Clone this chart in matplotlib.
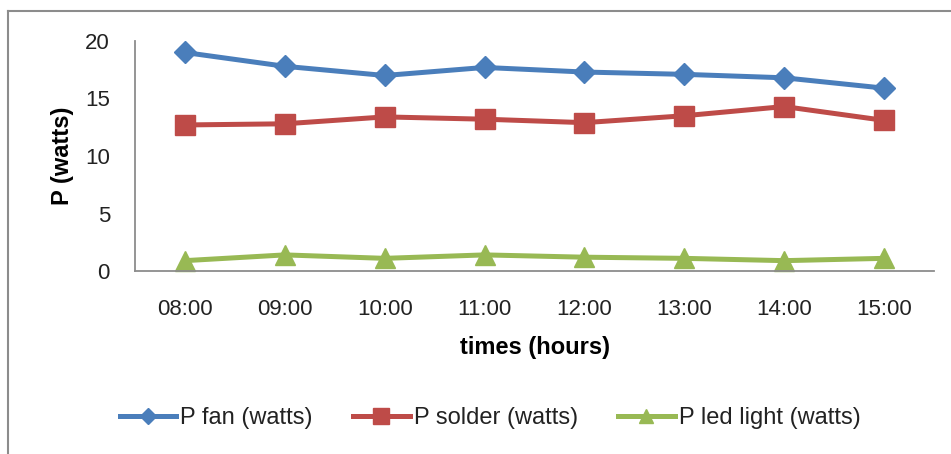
import matplotlib
matplotlib.use("Agg")
import matplotlib.pyplot as plt
from matplotlib.lines import Line2D

times = ["08:00", "09:00", "10:00", "11:00", "12:00", "13:00", "14:00", "15:00"]
p_fan = [19.0, 17.8, 17.0, 17.7, 17.3, 17.1, 16.8, 15.9]
p_solder = [12.7, 12.8, 13.4, 13.2, 12.9, 13.5, 14.3, 13.1]
p_led = [0.9, 1.4, 1.1, 1.4, 1.2, 1.1, 0.9, 1.1]
yticks = [0, 5, 10, 15, 20]

plt.rcParams['font.family'] = ['Liberation Sans', 'DejaVu Sans']

W, H = 951, 454
fig = plt.figure(figsize=(W/100, H/100), dpi=100)
ax = fig.add_axes([135/W, 1-271/H, (934-135)/W, (271-41)/H])

x = list(range(len(times)))
ax.plot(x, p_fan, color="#4A7EBB", lw=3.6, marker="D", ms=11, label="P fan (watts)")
ax.plot(x, p_solder, color="#BE4B48", lw=3.6, marker="s", ms=15, label="P solder (watts)")
ax.plot(x, p_led, color="#98B954", lw=3.6, marker="^", ms=14, label="P led light (watts)", clip_on=False)

ax.set_xlim(-0.5, 7.5)
ax.set_ylim(0, 20)
ax.set_xticks(x)
ax.set_xticklabels(times)
ax.set_yticks(yticks)
ax.tick_params(length=0, labelsize=16, colors="#222222")
ax.tick_params(axis='y', pad=18)
ax.tick_params(axis='x', pad=20)
for s in ["top", "right"]:
    ax.spines[s].set_visible(False)
for s in ["left", "bottom"]:
    ax.spines[s].set_color("#8c8c8c")
    ax.spines[s].set_linewidth(1.3)

ax.set_ylabel("P (watts)", fontsize=17, fontweight="bold", labelpad=8)
ax.set_xlabel("times (hours)", fontsize=17, fontweight="bold", labelpad=12)

leg = fig.legend(loc="center", bbox_to_anchor=(490/W, 1-418/H), ncol=3, frameon=False,
                 fontsize=17, handlelength=2.4, columnspacing=1.7, handletextpad=0.17,
                 markerscale=0.75)
for t in leg.get_texts():
    t.set_color("#222222")

# outer chart border (top and left visible)
fig.add_artist(Line2D([8/W, 8/W], [0, 1-11/H], color="#8c8c8c", lw=1.5, transform=fig.transFigure))
fig.add_artist(Line2D([8/W, 1], [1-11/H, 1-11/H], color="#8c8c8c", lw=1.5, transform=fig.transFigure))

fig.savefig("out.png", dpi=100)
